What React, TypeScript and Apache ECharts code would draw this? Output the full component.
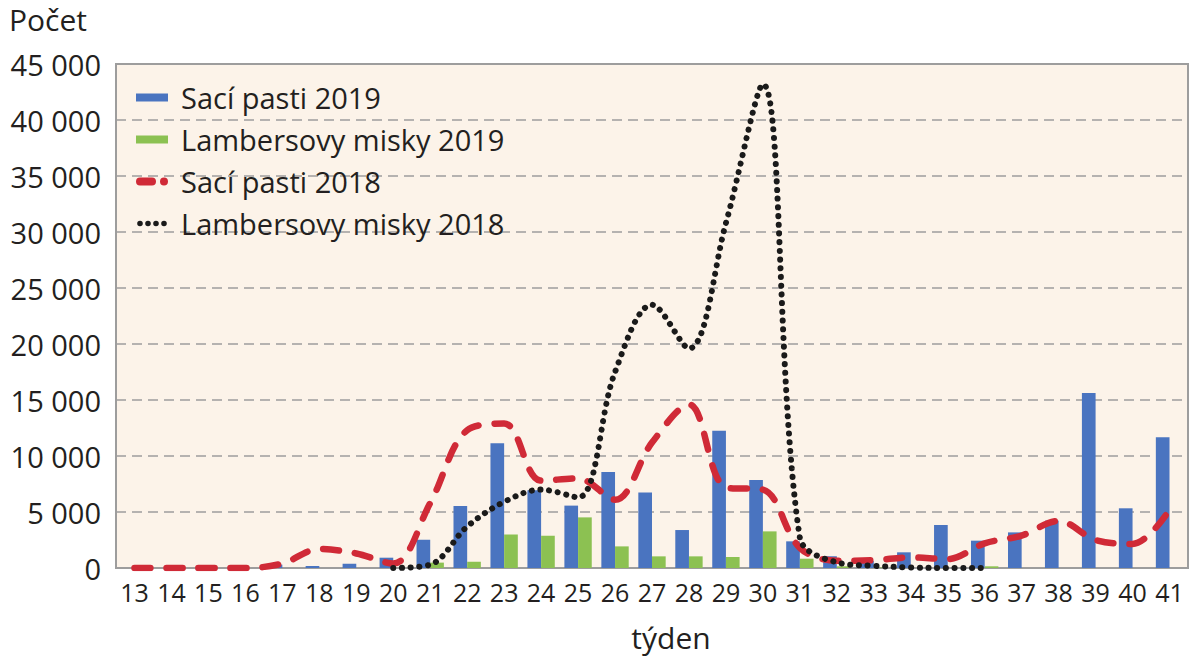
import React, { useEffect, useRef } from "react";
import * as echarts from "echarts";

const weeks = ["13","14","15","16","17","18","19","20","21","22","23","24","25","26","27","28","29","30","31","32","33","34","35","36","37","38","39","40","41"];

const saciPasti2019 = [0,0,0,0,300,180,390,920,2530,5540,11130,6950,5570,8570,6750,3390,12260,7860,2380,1050,620,1400,3840,2440,3180,4230,15625,5330,11670];
const lambersovy2019 = [0,0,0,0,0,0,0,0,480,550,2980,2880,4520,1930,1040,1040,980,3270,830,150,50,0,0,150,0,0,0,0,0];
const saciPasti2018 = [0,0,0,0,400,1700,1300,400,5800,12300,12900,7800,8000,6100,11200,14600,7200,7000,1800,650,700,950,800,2200,2900,4200,2500,2150,5200];
const lambersovy2018 = [null,null,null,null,null,null,null,0,300,3700,5900,7000,6300,17500,23500,19600,30800,43200,2700,500,200,50,0,0,null,null,null,null,null];

const FONT = "Open Sans";
const TXT = "#231f20";
const GREY = "#9d9d9d";
const BLUE = "#4a74c0";
const GREEN = "#8cc152";
const RED = "#d02a37";
const BLACK = "#1a1a1a";

const dashIcon =
  "path://M4,0 H16 A4,4 0 0 1 16,8 H4 A4,4 0 0 1 4,0 Z M28,0 A4,4 0 0 1 28,8 A4,4 0 0 1 28,0 Z";
const dot = (c: number) =>
  `M${c - 2.8},4 A2.8,2.8 0 1 0 ${c + 2.8},4 A2.8,2.8 0 1 0 ${c - 2.8},4 Z`;
const dotIcon = "path://M0,0 M32,8 " + [4, 12, 20, 28].map(dot).join(" ");

export default function App() {
  const ref = useRef<HTMLDivElement>(null);
  useEffect(() => {
    if (!ref.current) return;
    const chart = echarts.init(ref.current, undefined, { renderer: "svg" });
    chart.setOption({
      animation: false,
      backgroundColor: "#ffffff",
      textStyle: { fontFamily: FONT, color: TXT },
      title: {
        text: "Počet",
        left: 4,
        top: -1,
        textStyle: { fontFamily: FONT, fontSize: 30, fontWeight: "normal", color: TXT },
      },
      grid: {
        left: 116,
        right: 12,
        top: 64,
        bottom: 95,
        show: true,
        backgroundColor: "#fcf3e9",
        borderColor: GREY,
        borderWidth: 2,
      },
      legend: {
        orient: "vertical",
        left: 131,
        top: 77,
        itemWidth: 32,
        itemHeight: 8,
        itemGap: 11,
        textStyle: { fontFamily: FONT, fontSize: 29, color: TXT, lineHeight: 31, padding: [0, 0, 0, 8] },
        data: [
          { name: "Sací pasti 2019", icon: "rect", itemStyle: { color: BLUE } },
          { name: "Lambersovy misky 2019", icon: "rect", itemStyle: { color: GREEN } },
          { name: "Sací pasti 2018", icon: dashIcon, itemStyle: { color: RED } },
          { name: "Lambersovy misky 2018", icon: dotIcon, itemStyle: { color: BLACK } },
        ],
      },
      xAxis: {
        type: "category",
        data: weeks,
        name: "týden",
        nameLocation: "middle",
        nameGap: 54,
        nameTextStyle: { fontFamily: FONT, fontSize: 30, color: TXT, padding: [0, 0, 0, 38] },
        axisLine: { lineStyle: { color: GREY, width: 2 } },
        axisTick: { length: 8, lineStyle: { color: GREY, width: 2 } },
        axisLabel: { fontFamily: FONT, fontSize: 25, color: TXT, margin: 11, interval: 0 },
      },
      yAxis: {
        type: "value",
        min: 0,
        max: 45000,
        interval: 5000,
        axisLine: { show: false },
        axisTick: { show: false },
        axisLabel: {
          fontFamily: FONT,
          fontSize: 29,
          color: TXT,
          margin: 15,
          formatter: (v: number) => {
            if (v === 0) return "0";
            const th = Math.floor(v / 1000);
            return th + " 000";
          },
        },
        splitLine: { lineStyle: { type: [10, 6], color: GREY, width: 1.5 } },
      },
      series: [
        {
          name: "Sací pasti 2019",
          type: "bar",
          data: saciPasti2019,
          itemStyle: { color: BLUE },
          barGap: "0%",
          barCategoryGap: "26%",
          z: 1,
        },
        {
          name: "Lambersovy misky 2019",
          type: "bar",
          data: lambersovy2019,
          itemStyle: { color: GREEN },
          z: 1,
        },
        {
          name: "Sací pasti 2018",
          type: "line",
          data: saciPasti2018,
          smooth: 0.35,
          symbol: "none",
          itemStyle: { color: RED },
          lineStyle: { color: RED, width: 6.5, type: [16, 16], cap: "round" },
          z: 3,
        },
        {
          name: "Lambersovy misky 2018",
          type: "line",
          data: lambersovy2018,
          smooth: 0.35,
          symbol: "none",
          connectNulls: false,
          itemStyle: { color: BLACK },
          lineStyle: { color: BLACK, width: 6, type: [0.1, 8.6], cap: "round" },
          z: 4,
        },
      ],
    });
    return () => chart.dispose();
  }, []);
  return (
    <div
      ref={ref}
      style={{ position: "fixed", left: 0, top: 0, width: 1200, height: 663 }}
    />
  );
}
